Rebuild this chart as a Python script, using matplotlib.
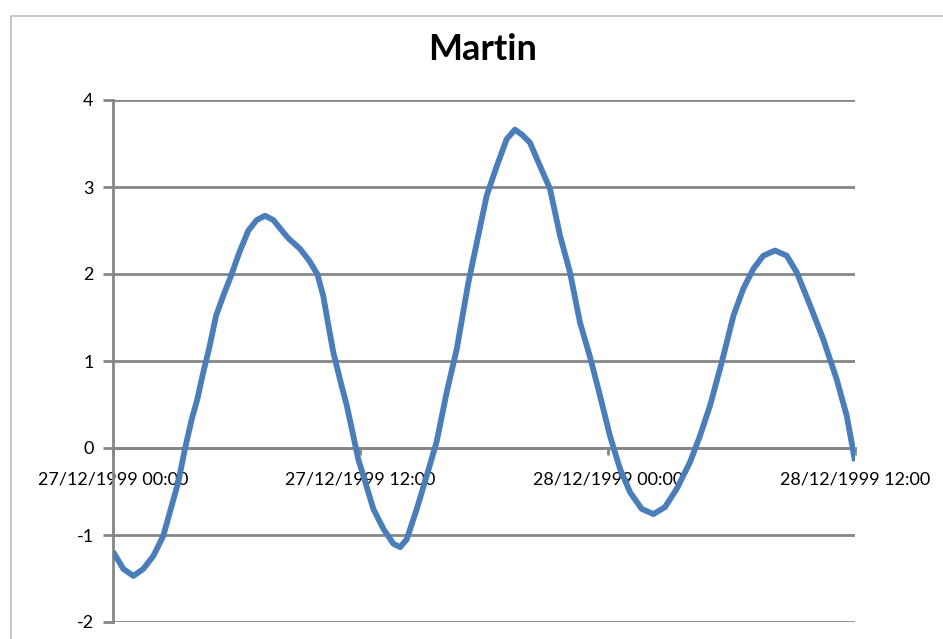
import matplotlib
matplotlib.use("Agg")
import matplotlib.pyplot as plt
import matplotlib.dates as mdates
from matplotlib.patches import Rectangle
import datetime as dt

title = "Martin"
start = dt.datetime(1999, 12, 27, 0, 0)
end = dt.datetime(1999, 12, 28, 12, 0)

hours = [0.0, 0.5, 0.99, 1.47, 1.96, 2.44, 2.85, 3.17, 3.49, 3.82, 4.09, 4.38,
         4.66, 5.0, 5.35, 5.76, 6.13, 6.57, 6.97, 7.38, 7.78, 8.26, 8.51, 9.07,
         9.53, 9.91, 10.2, 10.45, 10.69, 11.01, 11.34, 11.66, 11.9, 12.15, 12.63,
         13.12, 13.6, 13.93, 14.25, 14.74, 15.22, 15.7, 16.19, 16.68, 17.24,
         17.65, 18.13, 18.62, 19.1, 19.5, 19.85, 20.23, 20.72, 21.2, 21.69, 22.17,
         22.66, 23.14, 23.63, 24.11, 24.6, 25.09, 25.65, 26.22, 26.78, 27.35,
         28.0, 28.48, 28.97, 29.53, 30.1, 30.58, 31.07, 31.55, 32.12, 32.69,
         33.17, 33.82, 34.46, 35.11, 35.6, 36.0]
values = [-1.19, -1.39, -1.47, -1.39, -1.24, -1.01, -0.66, -0.39, -0.01, 0.33, 0.56, 0.87,
          1.14, 1.52, 1.75, 2.0, 2.25, 2.50, 2.62, 2.67, 2.62, 2.48, 2.41, 2.29,
          2.15, 2.0, 1.75, 1.41, 1.10, 0.79, 0.49, 0.14, -0.13, -0.32, -0.70,
          -0.93, -1.10, -1.14, -1.05, -0.70, -0.32, 0.07, 0.64, 1.14, 1.90,
          2.36, 2.90, 3.24, 3.55, 3.66, 3.60, 3.51, 3.24, 2.98, 2.44, 2.02,
          1.44, 1.05, 0.60, 0.14, -0.24, -0.51, -0.70, -0.76, -0.68, -0.47,
          -0.16, 0.14, 0.49, 0.98, 1.52, 1.83, 2.06, 2.21, 2.27, 2.21,
          2.02, 1.64, 1.25, 0.79, 0.37, -0.15]
y_ticks = [-2, -1, 0, 1, 2, 3, 4]
x_tick_hours = [0, 12, 24, 36]

times = [start + dt.timedelta(hours=h) for h in hours]
x_ticks = [start + dt.timedelta(hours=h) for h in x_tick_hours]

plt.rcParams['font.family'] = ['Lato', 'DejaVu Sans']
plt.rcParams['axes.unicode_minus'] = False

fig = plt.figure(figsize=(9.43, 6.39), dpi=100)
fig.patch.set_facecolor('white')
fig.patches.append(Rectangle((11/943, -0.1), 1.2, 1 - 16/639 + 0.1, transform=fig.transFigure,
                             fill=False, edgecolor='#BFBFBF', linewidth=1.2))

ax = fig.add_axes([113/943, 1 - 622/639, (855 - 113)/943, (622 - 100)/639])
grid_c = '#868686'
ax.set_ylim(-2, 4)
ax.set_xlim(start, end)
ax.set_yticks(y_ticks)
ax.set_xticks(x_ticks)
ax.xaxis.set_major_formatter(mdates.DateFormatter('%d/%m/%Y %H:%M'))
for y in y_ticks:
    ax.axhline(y, color=grid_c, linewidth=2, zorder=1)
for s in ['top', 'right']:
    ax.spines[s].set_visible(False)
ax.spines['bottom'].set_position(('data', 0))
ax.spines['bottom'].set_color(grid_c)
ax.spines['bottom'].set_linewidth(2)
ax.spines['left'].set_color(grid_c)
ax.spines['left'].set_linewidth(2)
ax.tick_params(axis='y', length=7, width=2, color=grid_c, labelsize=13, pad=7)
ax.tick_params(axis='x', length=5, width=2, color=grid_c, labelsize=13, pad=12)

ax.plot(times, values, color='#4A7EBB', linewidth=4.2, zorder=3,
        solid_joinstyle='round', solid_capstyle='butt')

fig.text(483/943, 1 - 50/639, title, ha='center', va='center', fontsize=26, fontweight='bold')

fig.savefig('out.png', dpi=100)
